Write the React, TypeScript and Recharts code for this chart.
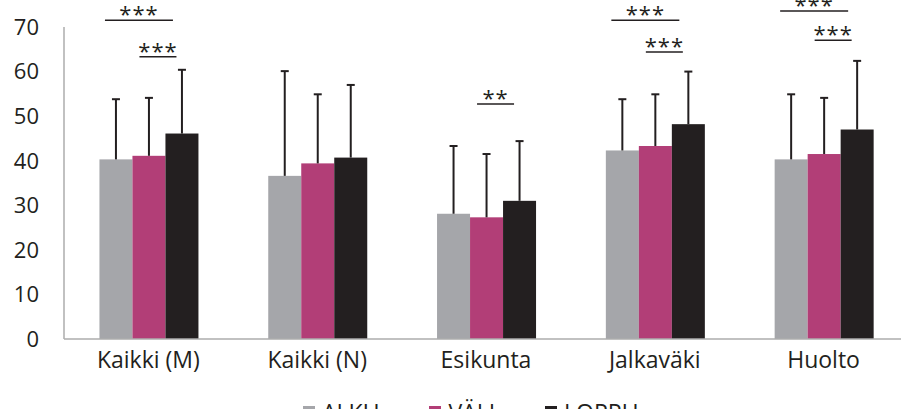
import { BarChart, Bar, XAxis, YAxis, Legend } from 'recharts';

const categories = ['Kaikki (M)', 'Kaikki (N)', 'Esikunta', 'Jalkaväki', 'Huolto'];
const alku = [40.3, 36.6, 28.1, 42.3, 40.3];
const alkuSd = [13.5, 23.5, 15.2, 11.5, 14.6];
const vali = [41.1, 39.4, 27.3, 43.3, 41.5];
const valiSd = [13.0, 15.5, 14.2, 11.6, 12.6];
const loppu = [46.1, 40.7, 31.0, 48.2, 47.0];
const loppuSd = [14.3, 16.3, 13.4, 11.8, 15.4];
const yTicks = [0, 10, 20, 30, 40, 50, 60, 70];
const seriesOrder = ['alku', 'vali', 'loppu'];

// significance markers, level = height of the underline in axis units
const sigUpperText = ['***', '', '', '***', '***'];
const sigUpperLevel = [71.5, 0, 0, 71.5, 73.6];
const sigLowerText = ['***', '', '**', '***', '***'];
const sigLowerLevel = [63.3, 0, 52.7, 64.4, 67.0];

const data = categories.map((name, i) => ({
  name,
  alku: alku[i],
  alkuSd: alkuSd[i],
  vali: vali[i],
  valiSd: valiSd[i],
  loppu: loppu[i],
  loppuSd: loppuSd[i],
}));

const ink = '#231f20';
const font = "'Open Sans', sans-serif";

const makeShape = (meanKey: string, sdKey: string, withSig: boolean) => (props: any) => {
  const { x, y, width, height, fill, payload, index } = props;
  const mean = payload[meanKey];
  const k = height / mean;
  const base = y + height;
  const cx = x + width / 2;
  const top = base - (mean + payload[sdKey]) * k;

  const sig = (text: string, level: number, dx: number, w: number) => {
    if (!text) return null;
    const ly = base - level * k;
    return (
      <g>
        <line x1={cx + dx - w / 2} x2={cx + dx + w / 2} y1={ly} y2={ly} stroke={ink} strokeWidth={1.5} />
        <text x={cx + dx} y={ly + 2} textAnchor="middle" fontSize={22} fontFamily={font} fill={ink} letterSpacing={1}>
          {text}
        </text>
      </g>
    );
  };

  return (
    <g>
      <rect x={x} y={y} width={width} height={height} fill={fill} />
      <line x1={cx} x2={cx} y1={y} y2={top} stroke={ink} strokeWidth={2} />
      <line x1={cx - 4} x2={cx + 4} y1={top} y2={top} stroke={ink} strokeWidth={2} />
      {withSig && sig(sigUpperText[index], sigUpperLevel[index], -10, 68)}
      {withSig && sig(sigLowerText[index], sigLowerLevel[index], 9, 37)}
    </g>
  );
};

const renderLegend = (props: any) => (
  <div style={{ display: 'flex', marginLeft: 303, fontFamily: font, fontSize: 23, lineHeight: '30px', color: ink }}>
    {props.payload.map((p: any) => (
      <div key={p.value} style={{ display: 'flex', alignItems: 'center', marginRight: 50 }}>
        <span style={{ width: 12, height: 12, background: p.color, marginRight: 7, display: 'inline-block' }} />
        <span>{p.value}</span>
      </div>
    ))}
  </div>
);

export default function App() {
  return (
    <div style={{ position: 'absolute', left: 0, top: 0 }}>
      <BarChart
        width={910}
        height={430}
        data={data}
        margin={{ top: 27, right: 2, bottom: 51, left: 0 }}
        barCategoryGap="21%"
        barGap={0}
      >
        <XAxis
          dataKey="name"
          interval={0}
          tickLine={false}
          axisLine={{ stroke: '#acacac', strokeWidth: 1.5 }}
          tickMargin={7}
          height={40}
          tick={{ fontSize: 23, fill: ink, fontFamily: font }}
        />
        <YAxis
          domain={[0, 70]}
          ticks={yTicks}
          width={64}
          tickLine={false}
          axisLine={{ stroke: '#acacac', strokeWidth: 1.5 }}
          tickMargin={19}
          tick={{ fontSize: 22, fill: ink, fontFamily: font }}
        />
        <Legend
          layout="horizontal"
          verticalAlign="middle"
          align="center"
          content={renderLegend}
          itemSorter={(item: any) => seriesOrder.indexOf(item.dataKey)}
          wrapperStyle={{ top: 397, left: 0, width: 910 }}
        />
        <Bar dataKey="alku" name="ALKU" fill="#a5a6aa" isAnimationActive={false} shape={makeShape('alku', 'alkuSd', false)} />
        <Bar dataKey="vali" name="VÄLI" fill="#b23e77" isAnimationActive={false} shape={makeShape('vali', 'valiSd', true)} />
        <Bar dataKey="loppu" name="LOPPU" fill="#231f20" isAnimationActive={false} shape={makeShape('loppu', 'loppuSd', false)} />
      </BarChart>
    </div>
  );
}
